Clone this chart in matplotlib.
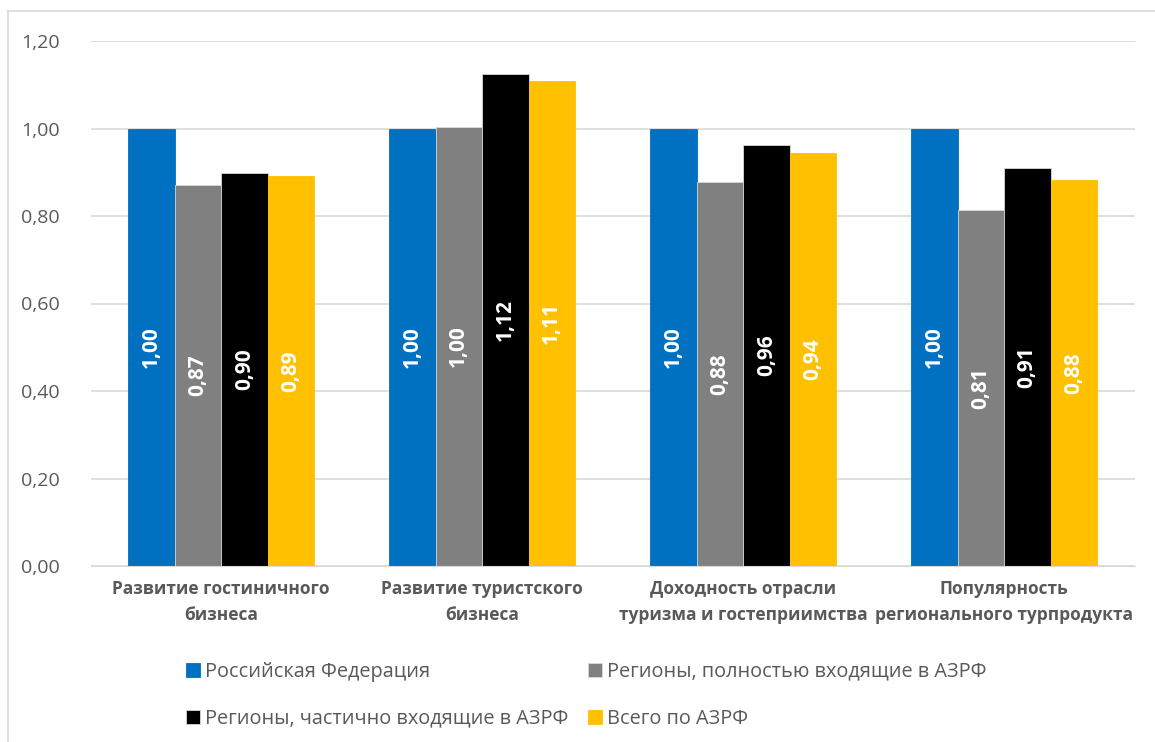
import matplotlib.pyplot as plt
import numpy as np

# Data
categories = ["Развитие гостиничного\nбизнеса",
              "Развитие туристского\nбизнеса",
              "Доходность отрасли\nтуризма и гостеприимства",
              "Популярность\nрегионального турпродукта"]
series_names = ["Российская Федерация",
                "Регионы, полностью входящие в АЗРФ",
                "Регионы, частично входящие в АЗРФ",
                "Всего по АЗРФ"]
rf = [1.00, 1.00, 1.00, 1.00]
full = [0.871, 1.003, 0.878, 0.814]
partial = [0.898, 1.124, 0.963, 0.910]
total = [0.891, 1.109, 0.944, 0.882]
yticks = [0.0, 0.2, 0.4, 0.6, 0.8, 1.0, 1.2]

colors = ["#0070C0", "#808080", "#000000", "#FFC000"]
text_gray = "#595959"
font = ["Open Sans", "DejaVu Sans"]
plt.rcParams['font.family'] = font

fig = plt.figure(figsize=(11.55, 7.42), dpi=100)
ax = fig.add_axes([90.5 / 1155, 1 - 566 / 742, 1044 / 1155, 525 / 742])

x = np.arange(len(categories))
w = 46.5 / 261
series = [rf, full, partial, total]
for i, (vals, name, c) in enumerate(zip(series, series_names, colors)):
    pos = x + (i - 1.5) * w
    bars = ax.bar(pos, vals, width=w, color=c, label=name,
                  edgecolor="#d9d9d9" if i in (1, 2) else c, linewidth=0.6)
    for b, v in zip(bars, vals):
        ax.text(b.get_x() + b.get_width() / 2, v / 2, f"{v:.2f}".replace(".", ","),
                rotation=90, ha="center", va="center", color="white",
                fontsize=15, fontweight="bold")

ax.set_xlim(-0.5, len(categories) - 0.5)
ax.set_ylim(0, 1.2)
ax.set_yticks(yticks)
ax.set_yticklabels([f"{t:.2f}".replace(".", ",") for t in yticks],
                   fontsize=14, color=text_gray)
ax.set_xticks(x)
ax.set_xticklabels(categories, fontsize=12.5, fontweight="bold", color=text_gray,
                   linespacing=1.6)
ax.tick_params(axis="both", length=0)
ax.tick_params(axis="y", pad=22)
ax.tick_params(axis="x", pad=10)
ax.grid(axis="y", color="#d9d9d9", linewidth=1.2)
ax.set_axisbelow(True)
for s in ["top", "right", "left"]:
    ax.spines[s].set_visible(False)
ax.spines["bottom"].set_color("#d9d9d9")

# legend filled row by row like the original
handles, labels = ax.get_legend_handles_labels()
order = [0, 2, 1, 3]
leg = fig.legend([handles[k] for k in order], [labels[k] for k in order],
                 ncol=2, loc="upper left",
                 bbox_to_anchor=(168 / 1155, 1 - 644 / 742), frameon=False,
                 fontsize=14.3, handlelength=0.7, handleheight=0.7,
                 handletextpad=0.25, columnspacing=1.0, labelspacing=1.35,
                 labelcolor=text_gray)

# chart border (top and left visible)
fig.add_artist(plt.Line2D([8 / 1155, 8 / 1155], [0, 1 - 11 / 742],
                          transform=fig.transFigure, color="#d9d9d9", linewidth=1.2))
fig.add_artist(plt.Line2D([8 / 1155, 1], [1 - 11 / 742, 1 - 11 / 742],
                          transform=fig.transFigure, color="#d9d9d9", linewidth=1.2))

fig.savefig("out.png", dpi=100)
